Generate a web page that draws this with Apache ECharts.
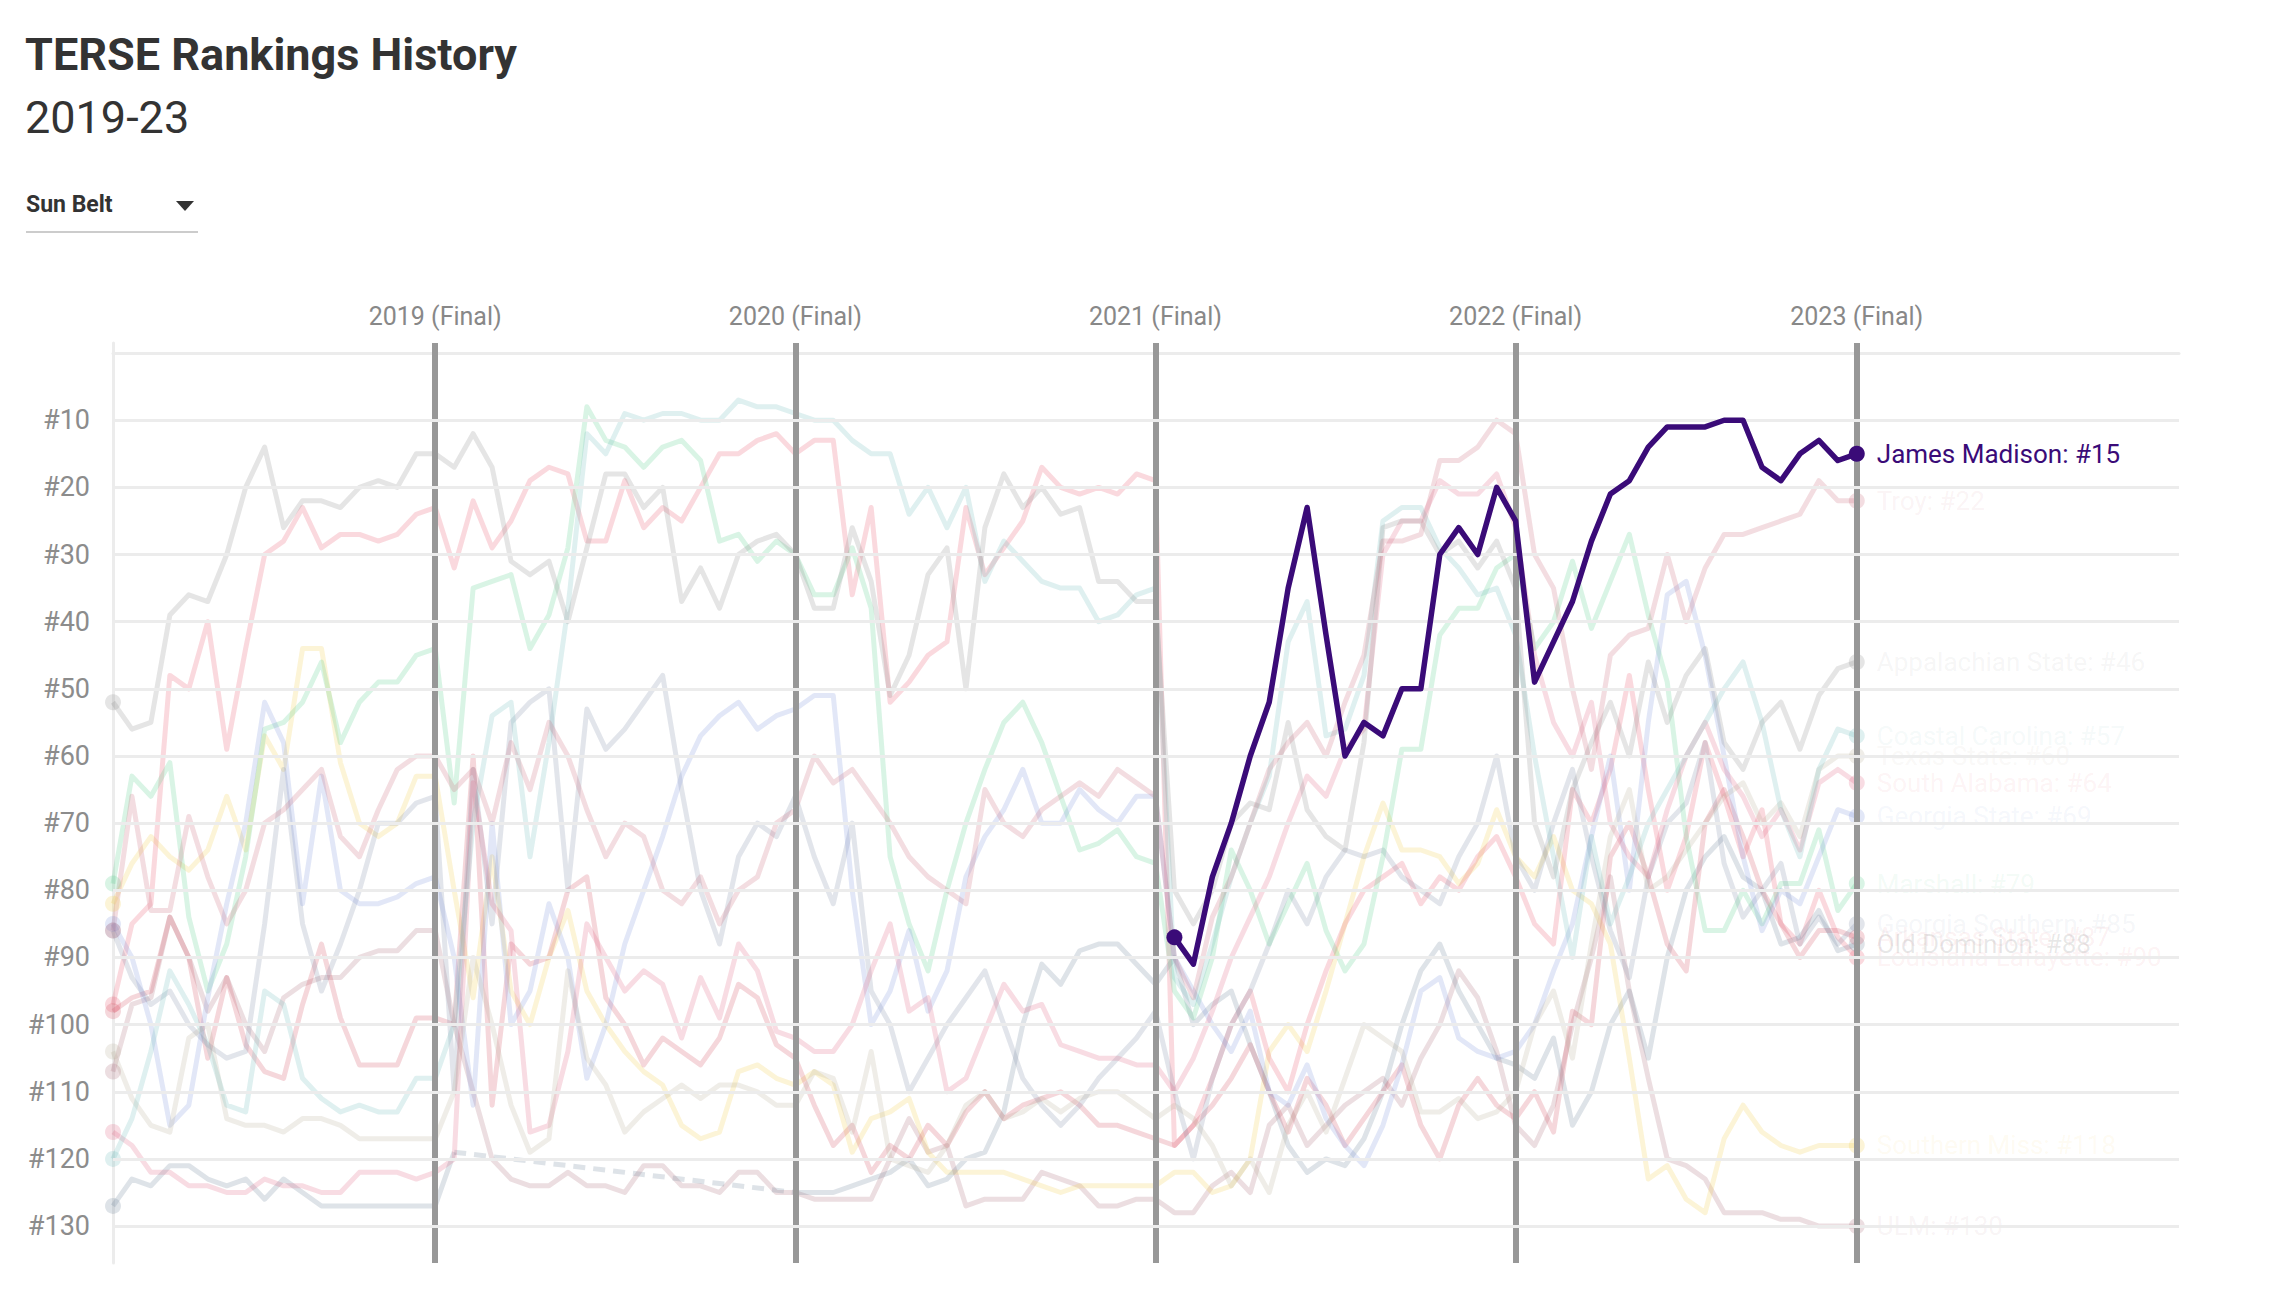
<!DOCTYPE html>
<html>
<head>
<meta charset="utf-8">
<script src="https://cdn.jsdelivr.net/npm/echarts@6/dist/echarts.min.js"></script>
<style>
html,body{margin:0;padding:0;background:#fff;}
#chart{width:2270px;height:1300px;}
</style>
</head>
<body>
<div id="chart"></div>
<script>
// ---- axis data ----
const finalWeeks = [17, 36, 55, 74, 92];
const finalLabels = ['2019 (Final)', '2020 (Final)', '2021 (Final)', '2022 (Final)', '2023 (Final)'];
const rankTicks = [10, 20, 30, 40, 50, 60, 70, 80, 90, 100, 110, 120, 130];

// ---- weekly rankings (index 0 = first week of 2019) ----
const jamesMadisonStart = 56;
const jamesMadison = [87,91,78,70,60,52,35,23,42,60,55,57,50,50,30,26,30,20,25,
  49,43,37,28,21,19,14,11,11,11,10,10,17,19,15,13,16,15];

const troy = [86,66,83,83,69,78,85,80,70,68,65,62,72,75,68,62,60,60,
  65,62,70,58,65,55,60,68,75,70,72,80,82,78,85,80,78,70,68,
  60,64,62,66,70,75,78,80,82,65,70,72,68,66,64,66,62,64,66,
  90,96,84,78,70,62,58,55,60,52,45,28,28,27,16,16,14,10,12,
  30,35,50,62,45,42,41,30,40,32,27,27,26,25,24,19,22,22];

const appalachianState = [52,56,55,39,36,37,30,20,14,26,22,22,23,20,19,20,15,15,
  17,12,17,31,33,31,40,29,18,18,23,20,37,32,38,30,28,27,30,
  38,38,26,34,51,45,33,29,50,26,18,23,20,24,23,34,34,37,37,
  80,85,80,70,67,68,55,68,72,74,58,26,25,25,30,28,32,28,35,
  70,78,65,58,52,60,46,55,48,44,58,62,55,52,59,51,47,46];

const coastalCarolina = [120,114,104,92,97,103,112,113,95,97,108,111,113,112,113,113,108,108,
  100,70,54,52,75,58,38,12,15,9,10,9,9,10,10,7,8,8,9,
  10,10,13,15,15,24,20,26,20,34,28,31,34,35,35,40,39,36,35,
  93,97,88,78,70,63,43,37,57,56,48,25,23,23,29,32,36,35,42,
  60,75,90,72,85,78,70,65,60,55,50,46,55,68,75,62,56,57];

const texasState = [104,111,115,116,102,100,114,115,115,116,114,114,115,117,117,117,117,117,
  110,90,100,112,119,117,92,105,109,116,113,111,109,111,109,109,110,112,112,
  107,108,116,104,120,121,122,118,112,110,114,113,111,113,111,110,110,112,114,
  112,114,118,124,120,125,115,110,116,108,100,102,104,113,113,111,114,113,110,
  100,95,105,88,72,65,80,78,74,70,66,64,70,67,72,62,60,60];

const southAlabama = [116,118,122,122,124,124,125,125,123,124,124,125,125,122,122,122,123,122,
  120,64,82,86,116,115,104,85,90,95,92,94,102,93,99,88,92,101,102,
  104,104,100,92,85,98,96,110,108,101,94,98,97,103,104,105,105,106,106,
  110,105,98,90,84,78,70,63,66,59,56,30,25,25,19,21,21,18,26,
  45,55,60,52,70,75,78,68,60,55,62,66,72,68,74,64,62,64];

const georgiaState = [85,90,100,115,112,96,82,70,52,58,82,63,80,82,82,81,79,78,
  90,112,70,100,95,82,90,108,100,88,80,72,63,57,54,52,56,54,53,
  51,51,80,100,95,86,98,92,78,72,68,62,70,70,65,68,70,66,66,
  90,95,100,104,98,110,112,106,114,118,121,115,106,95,93,102,104,105,104,
  100,92,85,72,60,80,55,36,34,45,60,75,86,80,82,75,68,69];

const marshall = [79,63,66,61,84,95,88,75,56,55,52,46,58,52,49,49,45,44,
  67,35,34,33,44,39,29,8,13,14,17,14,13,16,28,27,31,28,30,
  36,36,29,38,75,85,92,80,70,62,55,52,58,66,74,73,71,75,76,
  95,99,90,74,80,88,82,76,86,92,88,75,59,59,42,38,38,32,30,
  44,40,31,41,34,27,39,49,72,86,86,80,85,79,79,71,83,79];

const georgiaSouthern = [86,93,97,95,100,103,105,104,85,62,85,95,88,80,70,70,67,66,
  110,62,85,55,52,50,80,53,59,56,52,48,65,80,88,75,70,72,66,
  75,82,70,95,100,110,105,100,96,92,100,108,112,115,112,108,105,102,98,
  110,120,108,100,95,88,80,85,78,74,75,74,78,80,82,75,70,60,75,
  80,70,62,75,86,93,78,70,67,58,76,84,80,76,88,84,88,85];

const arkansasState = [98,96,95,84,90,105,93,103,107,108,97,88,99,106,106,106,99,99,
  100,60,112,88,91,90,80,78,96,100,106,102,104,106,102,94,96,103,105,
  112,118,115,122,118,120,115,118,113,110,114,112,111,110,112,115,115,116,117,
  118,115,112,108,103,110,116,108,112,118,114,110,106,115,120,112,108,112,114,
  110,116,98,100,75,70,78,88,92,70,65,72,80,85,90,86,86,87];

const oldDominion = [127,123,124,121,121,123,124,123,126,123,125,127,127,127,127,127,127,127,
  119,null,null,null,null,null,null,null,null,null,null,null,null,null,null,null,null,null,125,
  125,125,124,123,122,120,124,123,120,119,113,100,91,94,89,88,88,91,94,
  90,100,97,95,103,110,118,122,120,121,117,110,100,92,88,95,100,105,106,
  108,102,115,110,100,95,105,90,80,75,72,78,80,88,87,83,89,88];

const louisianaLafayette = [97,85,82,48,50,40,59,44,30,28,23,29,27,27,28,27,24,23,
  32,22,29,25,19,17,18,28,28,19,26,23,25,20,15,15,13,12,15,
  13,13,36,23,52,49,45,43,23,33,29,25,17,20,21,20,21,18,19,
  118,115,108,100,95,105,110,100,92,85,80,78,76,82,78,80,75,72,78,
  85,88,65,70,62,48,65,80,72,58,66,75,68,85,88,80,87,90];

const southernMiss = [82,76,72,75,77,74,66,74,57,62,44,44,61,70,72,70,63,63,
  80,96,75,95,100,90,83,95,100,104,107,109,115,117,116,107,106,108,109,
  107,109,119,114,113,111,119,122,122,122,122,123,124,125,124,124,124,124,124,
  122,122,125,124,120,104,100,104,95,85,75,67,74,74,75,79,76,68,75,
  78,72,80,82,88,105,123,121,126,128,117,112,116,118,119,118,118,118];

const ulm = [107,97,96,84,90,98,93,100,104,96,94,93,93,90,89,89,86,86,
  100,110,120,123,124,124,122,124,124,125,121,121,124,124,125,122,122,125,125,
  126,126,126,126,120,114,119,118,127,126,126,126,122,123,124,127,127,126,126,
  128,128,124,122,125,115,112,118,115,112,110,108,112,105,100,92,96,104,115,
  118,112,100,90,78,95,108,120,121,123,128,128,128,129,129,130,130,130];

// ---- styling per team ----
const faintTeams = [
  {name: 'ULM', values: ulm, color: '#a86a78'},
  {name: 'Southern Miss', values: southernMiss, color: '#f0cc48'},
  {name: 'Louisiana-Lafayette', values: louisianaLafayette, color: '#e8506a'},
  {name: 'Old Dominion', values: oldDominion, color: '#6a7f98', label: 'rgba(70,70,70,0.55)'},
  {name: 'Arkansas State', values: arkansasState, color: '#d24a5a'},
  {name: 'Georgia Southern', values: georgiaSouthern, color: '#7a8aa6'},
  {name: 'Marshall', values: marshall, color: '#52cc88'},
  {name: 'Georgia State', values: georgiaState, color: '#7a90dc'},
  {name: 'South Alabama', values: southAlabama, color: '#e0607e'},
  {name: 'Texas State', values: texasState, color: '#b8ac94'},
  {name: 'Coastal Carolina', values: coastalCarolina, color: '#6fbcbc'},
  {name: 'Appalachian State', values: appalachianState, color: '#8a8a8a'},
  {name: 'Troy', values: troy, color: '#c86478'}
];

const FAINT_OPACITY = 0.22;

function hexToRgba(hex, a) {
  const n = parseInt(hex.slice(1), 16);
  return 'rgba(' + ((n >> 16) & 255) + ',' + ((n >> 8) & 255) + ',' + (n & 255) + ',' + a + ')';
}

function buildPoints(name, values, start, labelColor) {
  let first = -1, last = -1;
  values.forEach((v, i) => { if (v != null) { if (first < 0) first = i; last = i; } });
  return values.map((v, i) => {
    const k = start + i;
    if (v == null) return [k, '-'];
    if (i === first || i === last) {
      const item = {value: [k, v], symbol: 'circle', symbolSize: 16};
      if (i === last) {
        item.label = {
          show: true, position: 'right', distance: 12,
          formatter: name + ': #' + v,
          color: labelColor, fontSize: 26, fontFamily: 'Roboto'
        };
      }
      return item;
    }
    return [k, v];
  });
}

const series = [];

// final-week vertical lines
series.push({
  type: 'line', data: [], z: 1, silent: true,
  markLine: {
    silent: true, symbol: ['none', 'none'], animation: false,
    label: {show: false},
    lineStyle: {color: '#989898', width: 6, type: 'solid'},
    data: finalWeeks.map(w => ({xAxis: w}))
  }
});
// horizontal rank grid lines
series.push({
  type: 'line', data: [], z: 2, silent: true,
  markLine: {
    silent: true, symbol: ['none', 'none'], animation: false,
    label: {show: false},
    lineStyle: {color: '#ececec', width: 3, type: 'solid'},
    data: rankTicks.map(r => ({yAxis: r}))
  }
});

faintTeams.forEach(t => {
  const lc = t.label || hexToRgba(t.color, 0.38);
  series.push({
    name: t.name, type: 'line', z: 3, silent: true,
    symbol: 'none', showSymbol: true,
    data: buildPoints(t.name, t.values, 0, lc),
    lineStyle: {color: t.color, width: 5, opacity: FAINT_OPACITY, join: 'round'},
    itemStyle: {color: t.color, opacity: FAINT_OPACITY}
  });
  // dashed bridge over gaps (season not played)
  for (let i = 1; i < t.values.length; i++) {
    if (t.values[i] == null && t.values[i - 1] != null) {
      let j = i;
      while (j < t.values.length && t.values[j] == null) j++;
      if (j < t.values.length) {
        series.push({
          type: 'line', z: 3, silent: true, symbol: 'none',
          data: [[i - 1, t.values[i - 1]], [j, t.values[j]]],
          lineStyle: {color: t.color, width: 5, opacity: FAINT_OPACITY, type: [12, 8]}
        });
      }
      i = j;
    }
  }
});

series.push({
  name: 'James Madison', type: 'line', z: 5, silent: true,
  symbol: 'none', showSymbol: true,
  data: buildPoints('James Madison', jamesMadison, jamesMadisonStart, '#3a0b78'),
  lineStyle: {color: '#3a0b78', width: 5.5, join: 'round'},
  itemStyle: {color: '#3a0b78'}
});

const chart = echarts.init(document.getElementById('chart'), null, {renderer: 'svg'});
chart.setOption({
  animation: false,
  backgroundColor: '#ffffff',
  title: [
    {text: 'TERSE Rankings History', left: 25, top: 32, padding: 0,
     textStyle: {fontFamily: 'Roboto', fontWeight: 'bold', fontSize: 45, color: '#333333'}},
    {text: '2019-23', left: 25, top: 95, padding: 0,
     textStyle: {fontFamily: 'Roboto', fontWeight: 'normal', fontSize: 45, color: '#333333'}},
    {text: 'Sun Belt', left: 26, top: 193, padding: 0,
     textStyle: {fontFamily: 'Roboto', fontWeight: 'bold', fontSize: 23, color: '#333333'}}
  ],
  graphic: [
    {type: 'polygon', shape: {points: [[176, 201], [194, 201], [185, 211]]}, style: {fill: '#333333'}},
    {type: 'line', shape: {x1: 26, y1: 232, x2: 198, y2: 232}, style: {stroke: '#cccccc', lineWidth: 2}}
  ],
  grid: {left: 113, right: 91, top: 343, bottom: 37, containLabel: false},
  xAxis: {
    type: 'value', min: 0, max: 109, interval: 1, position: 'top',
    axisLine: {show: true, lineStyle: {color: '#ececec', width: 3}},
    axisTick: {show: false}, splitLine: {show: false},
    axisLabel: {
      show: true, margin: 14, color: '#888888', fontSize: 25, fontFamily: 'Roboto',
      showMinLabel: true, showMaxLabel: true,
      formatter: v => { const i = finalWeeks.indexOf(v); return i >= 0 ? finalLabels[i] : ''; }
    }
  },
  yAxis: {
    type: 'value', inverse: true, min: -1.5, max: 135.5, interval: 0.5,
    axisLine: {show: true, lineStyle: {color: '#ececec', width: 3}},
    axisTick: {show: false}, splitLine: {show: false},
    axisLabel: {
      show: true, margin: 23, color: '#8c8c8c', fontSize: 27, fontFamily: 'Roboto',
      formatter: v => rankTicks.indexOf(v) >= 0 ? '#' + v : ''
    }
  },
  series: series
});
</script>
</body>
</html>
